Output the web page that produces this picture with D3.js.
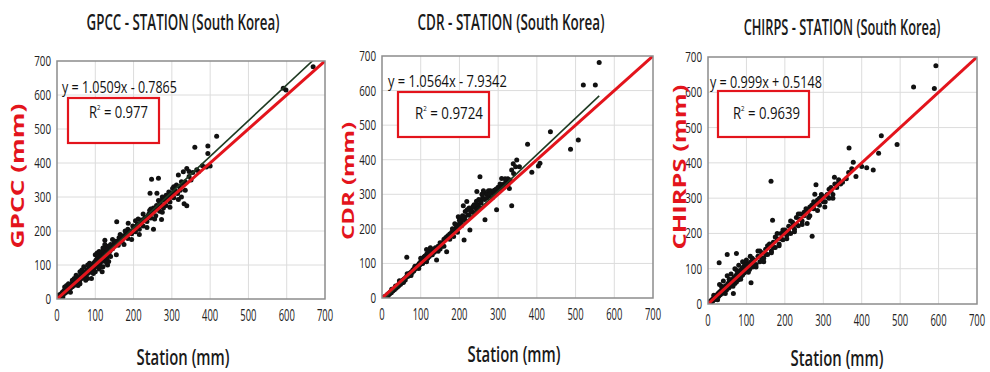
<!DOCTYPE html>
<html>
<head>
<meta charset="utf-8">
<script src="https://cdn.jsdelivr.net/npm/d3@7"></script>
<style>
  body { margin: 0; background: #fff; }
  svg { display: block; font-family: "Open Sans", "Liberation Sans", sans-serif; }
</style>
</head>
<body>
<svg id="chart" width="990" height="372"></svg>
<script>
// ---- data ----
const titles = ["GPCC - STATION (South Korea)", "CDR - STATION (South Korea)", "CHIRPS - STATION (South Korea)"];
const yLabels = ["GPCC (mm)", "CDR (mm)", "CHIRPS (mm)"];
const xLabel = "Station (mm)";
const axisTicks = [0, 100, 200, 300, 400, 500, 600, 700];
const slopes = [1.0509, 1.0564, 0.999];
const intercepts = [-0.7865, -7.9342, 0.5148];
const equations = ["y = 1.0509x - 0.7865", "y = 1.0564x - 7.9342", "y = 0.999x + 0.5148"];
const r2Values = ["0.977", "0.9724", "0.9639"];

// [station, product]
const gpccPoints = [
  [3,5],[5,12],[8,6],[10,15],[12,9],[14,20],[16,12],[18,24],[20,17],[22,28],[24,20],[26,32],[28,25],[30,35],
  [32,27],[34,40],[36,33],[38,45],[40,36],[42,50],[44,40],[46,55],[48,44],[50,58],[52,47],[54,62],[56,52],
  [58,65],[60,45],[60,56],[62,70],[64,60],[66,72],[68,63],[70,78],[72,68],[74,80],[76,70],[78,85],[80,60],
  [80,75],[82,88],[84,78],[86,92],[88,84],[90,98],[92,86],[94,104],[96,90],[98,108],[100,80],[100,95],
  [102,115],[104,98],[106,120],[108,104],[110,88],[110,125],[112,105],[114,130],[116,110],[118,80],[120,95],
  [120,135],[122,112],[124,145],[125,173],[126,115],[128,150],[130,120],[132,100],[134,155],[136,128],
  [138,140],[140,160],[145,148],[150,165],[156,227],[158,170],[160,158],[165,175],[170,168],[175,185],
  [180,190],[185,178],[186,223],[190,200],[195,192],[200,210],[205,198],[210,220],[215,205],[220,232],
  [225,215],[230,240],[235,228],[240,250],[243,311],[245,238],[247,352],[250,255],[252,205],[255,262],
  [258,245],[261,311],[262,270],[265,355],[268,258],[270,280],[273,234],[275,300],[278,268],[282,290],
  [285,275],[290,305],[295,285],[300,310],[305,298],[310,318],[317,293],[317,365],[320,330],[325,300],
  [330,374],[332,280],[335,345],[339,274],[339,384],[345,360],[350,350],[355,372],[360,446],[365,380],
  [370,375],[380,392],[390,388],[394,450],[394,428],[400,391],[417,479],[591,620],[598,615],[669,683],
  [15,5],[25,40],[35,20],[45,60],[55,40],[65,85],[75,55],[85,105],[95,75],[105,135],[115,95],[125,160],
  [135,110],[145,175],[155,130],[165,190],[175,160],[185,205],[195,175],[205,230],[215,190],[225,250],
  [235,210],[245,265],[255,235],[265,290],[275,255],[285,305],[295,270],[305,330],[315,310],[325,345],
  [335,320],[345,375],[90,60],[100,130],[110,140],[120,150],[130,105],[140,125],[60,80],[70,95],[80,100],
  [50,70],[40,55],[30,45],[20,35],[100,110],[105,125],[115,120],[118,140],[122,130],[128,135],[132,145],
  [142,150],[148,160],[152,170],[162,180],[172,185],[178,200],[188,195],[198,215],[208,215],[212,235],
  [218,225],[228,235],[238,245],[242,260],[252,268],[260,275],[268,285],[272,290],[280,295],[288,300],
  [292,315],[298,300],[302,325],[308,315],[312,335],[322,320],[328,340]
];
const cdrPoints = [
  [3,2],[5,0],[8,4],[10,6],[12,3],[14,10],[16,8],[18,14],[20,12],[22,18],[24,15],[26,22],[28,20],[30,26],
  [32,24],[34,30],[36,28],[38,34],[40,32],[42,38],[44,36],[46,42],[48,40],[50,46],[52,44],[54,52],[56,48],
  [58,56],[60,52],[62,60],[64,118],[66,62],[68,66],[70,64],[72,72],[74,70],[76,76],[78,74],[80,82],[82,78],
  [84,86],[86,84],[88,90],[90,88],[92,94],[94,92],[96,100],[98,96],[100,105],[102,100],[104,112],[106,104],
  [108,118],[110,108],[112,122],[114,112],[116,128],[118,115],[120,132],[122,120],[125,138],[128,125],
  [130,140],[135,132],[138,145],[141,110],[145,150],[150,142],[155,160],[160,150],[167,134],[170,180],
  [175,170],[180,190],[185,178],[190,200],[192,210],[195,205],[197,235],[200,215],[205,220],[208,238],
  [210,267],[212,168],[215,250],[219,279],[222,240],[225,260],[227,197],[230,255],[235,248],[240,262],
  [245,308],[248,270],[250,285],[253,351],[256,275],[260,290],[266,303],[266,226],[270,300],[275,295],
  [280,310],[285,305],[290,312],[296,255],[300,320],[305,315],[309,346],[315,330],[320,335],[329,317],
  [331,341],[335,267],[335,370],[339,388],[348,399],[355,380],[376,445],[387,364],[404,382],[408,390],
  [435,481],[487,430],[507,457],[520,616],[551,616],[561,681],
  [15,5],[25,25],[35,35],[45,50],[55,45],[65,70],[75,65],[85,92],[95,85],[105,115],[115,105],[125,130],
  [135,140],[145,135],[155,150],[165,175],[175,185],[185,195],[195,190],[205,230],[215,225],[225,240],
  [235,265],[245,255],[255,280],[265,285],[275,310],[285,290],[295,315],[305,330],[315,320],[325,345],
  [110,120],[115,140],[120,125],[125,145],[100,115],[105,100],[130,125],[150,160],[160,170],[182,200],
  [188,215],[200,225],[206,210],[214,235],[220,255],[230,250],[238,270],[244,280],[252,262],[258,300],
  [262,310],[272,290],[278,300],[290,300],[298,305],[310,320],[318,345],[326,330],[340,360],[345,380]
];
const chirpsPoints = [
  [2,3],[4,1],[6,8],[8,5],[10,12],[12,8],[14,16],[16,12],[18,20],[20,15],[22,25],[24,18],[26,30],[28,22],
  [29,117],[30,34],[32,26],[34,38],[36,30],[38,44],[40,34],[42,48],[44,38],[46,52],[48,40],[50,140],[52,58],
  [54,45],[56,62],[58,50],[60,66],[62,54],[64,70],[66,30],[68,75],[70,58],[72,80],[74,62],[74,143],[76,85],
  [78,68],[80,90],[82,72],[84,95],[86,78],[88,100],[90,82],[92,105],[94,88],[96,100],[98,110],[100,92],
  [104,115],[108,98],[112,60],[112,120],[116,105],[120,125],[125,112],[130,135],[135,120],[140,145],
  [145,130],[150,155],[155,140],[160,165],[164,348],[165,150],[168,237],[170,175],[175,160],[180,185],
  [185,170],[190,200],[195,182],[200,210],[205,195],[210,220],[215,200],[220,232],[225,212],[230,245],
  [235,222],[240,255],[245,235],[250,260],[258,228],[262,245],[265,275],[271,192],[275,270],[278,311],
  [281,338],[285,295],[290,280],[295,300],[300,290],[304,275],[310,305],[315,300],[320,320],[325,310],
  [329,359],[335,330],[340,352],[345,340],[350,345],[360,355],[366,373],[367,442],[374,383],[378,402],
  [385,361],[400,390],[413,386],[430,380],[444,427],[451,477],[492,452],[535,615],[589,611],[593,675],
  [15,25],[25,12],[35,50],[45,30],[55,70],[65,50],[75,95],[85,70],[95,115],[105,90],[115,130],[125,105],
  [135,150],[145,120],[155,165],[165,145],[175,190],[185,165],[195,210],[205,185],[215,235],[225,205],
  [235,255],[245,225],[255,270],[265,250],[275,290],[285,265],[295,310],[305,290],[315,325],[325,300],
  [30,55],[40,65],[50,80],[60,85],[70,100],[80,110],[90,120],[100,125],[110,135],[120,110],[100,105],
  [90,95],[80,80],[70,70],[60,60],[50,45],[40,40],[130,150],[140,130],[150,140],[160,170],[170,160],
  [180,200],[190,185],[200,200],[210,205],[220,220],[230,225],[240,240],[250,250],[260,262],[270,280],
  [280,285],[290,300],[300,305],[310,310],[320,330],[330,340],[340,345]
];
const allPoints = [gpccPoints, cdrPoints, chirpsPoints];

// ---- layout (pixels) ----
const panels = [
  { left: 57, right: 325, top: 61, bottom: 299, titleX: 183, titleY: 30, titleLen: 193,
    ylabX: 24, ylabY: 176, ylabLen: 145, ylabSize: 18, stationX: 183, stationY: 365,
    eqX: 62, eqY: 93, eqLen: 115, box: [68, 98, 91, 45], r2X: 89, r2Y: 118, r2Len: 59 },
  { left: 382, right: 653, top: 56, bottom: 298, titleX: 511, titleY: 30, titleLen: 187,
    ylabX: 354, ylabY: 181, ylabLen: 118, ylabSize: 16, stationX: 514, stationY: 362,
    eqX: 388, eqY: 87, eqLen: 119, box: [398, 92, 91, 45], r2X: 415, r2Y: 119, r2Len: 68 },
  { left: 708, right: 977, top: 57, bottom: 304, titleX: 842, titleY: 35, titleLen: 197,
    ylabX: 686, ylabY: 167, ylabLen: 165, ylabSize: 18, stationX: 837, stationY: 366,
    eqX: 710, eqY: 88, eqLen: 112, box: [718, 91, 91, 46], r2X: 733, r2Y: 119, r2Len: 67 }
];

const red = "#e3141c";
const svg = d3.select("#chart");

// squeeze a text horizontally to the width measured on the picture
function fitText(text, x, y, len, rotate) {
  const natural = text.node().getComputedTextLength();
  const s = natural > 0 ? len / natural : 1;
  text.attr("x", 0).attr("y", 0)
    .attr("transform", `translate(${x},${y})${rotate ? " rotate(-90)" : ""} scale(${s},1)`);
}

panels.forEach((p, i) => {
  const pts = allPoints[i];
  const x = d3.scaleLinear().domain([0, 700]).range([p.left, p.right]);
  const y = d3.scaleLinear().domain([0, 700]).range([p.bottom, p.top]);
  const g = svg.append("g").attr("class", "panel_" + i);

  g.append("clipPath").attr("id", "clip" + i)
    .append("rect")
    .attr("x", p.left).attr("y", p.top)
    .attr("width", p.right - p.left).attr("height", p.bottom - p.top);

  // gridlines
  g.selectAll(".vgrid").data(axisTicks.slice(1, -1)).join("line")
    .attr("x1", d => x(d)).attr("x2", d => x(d))
    .attr("y1", p.top).attr("y2", p.bottom)
    .attr("stroke", "#dcdcdc").attr("stroke-width", 1);
  g.selectAll(".hgrid").data(axisTicks.slice(1, -1)).join("line")
    .attr("y1", d => y(d)).attr("y2", d => y(d))
    .attr("x1", p.left).attr("x2", p.right)
    .attr("stroke", "#dcdcdc").attr("stroke-width", 1);

  // tick labels
  g.selectAll(".xt").data(axisTicks).join("text")
    .attr("text-anchor", "middle")
    .attr("font-size", 17).attr("fill", "#222")
    .text(d => d)
    .each(function (d) { fitText(d3.select(this), x(d), p.bottom + 22, String(d).length * 5.4); });
  g.selectAll(".yt").data(axisTicks).join("text")
    .attr("text-anchor", "end")
    .attr("font-size", 15).attr("fill", "#222")
    .text(d => d)
    .each(function (d) { fitText(d3.select(this), p.left - 6, y(d) + 5, String(d).length * 5.6); });

  // points
  g.append("g").attr("clip-path", `url(#clip${i})`)
    .selectAll("circle").data(pts).join("circle")
    .attr("cx", d => x(d[0])).attr("cy", d => y(d[1]))
    .attr("r", 2.5).attr("fill", "#111");

  // trend line over the data range, then 1:1 line
  const xr = d3.extent(pts, d => d[0]);
  const lines = g.append("g").attr("clip-path", `url(#clip${i})`);
  lines.append("line")
    .attr("x1", x(0)).attr("y1", y(intercepts[i]))
    .attr("x2", x(xr[1])).attr("y2", y(slopes[i] * xr[1] + intercepts[i]))
    .attr("stroke", "#1f3a22").attr("stroke-width", 1.6);
  lines.append("line")
    .attr("x1", x(0)).attr("y1", y(0))
    .attr("x2", x(700)).attr("y2", y(700))
    .attr("stroke", red).attr("stroke-width", 3);

  // plot frame
  g.append("rect")
    .attr("x", p.left).attr("y", p.top)
    .attr("width", p.right - p.left).attr("height", p.bottom - p.top)
    .attr("fill", "none").attr("stroke", "#8c8c8c").attr("stroke-width", 1.5);

  // equation and R2 box
  const eq = g.append("text")
    .attr("font-size", 16).attr("fill", "#111")
    .text(equations[i]);
  fitText(eq, p.eqX, p.eqY, p.eqLen);
  g.append("rect")
    .attr("x", p.box[0]).attr("y", p.box[1])
    .attr("width", p.box[2]).attr("height", p.box[3])
    .attr("fill", "#fff").attr("stroke", red).attr("stroke-width", 2.2);
  const r2 = g.append("text")
    .attr("font-size", 17).attr("fill", "#111");
  r2.append("tspan").text("R");
  r2.append("tspan").attr("font-size", 8).attr("dy", -8).text("2");
  r2.append("tspan").attr("dy", 8).text(" = " + r2Values[i]);
  fitText(r2, p.r2X, p.r2Y, p.r2Len);

  // titles and axis labels
  const title = g.append("text")
    .attr("text-anchor", "middle")
    .attr("font-size", 21).attr("font-weight", 600).attr("fill", "#1a1a1a")
    .text(titles[i]);
  fitText(title, p.titleX, p.titleY, p.titleLen);
  const st = g.append("text")
    .attr("text-anchor", "middle")
    .attr("font-size", 22).attr("font-weight", 600).attr("fill", "#1a1a1a")
    .text(xLabel);
  fitText(st, p.stationX, p.stationY, 93);
  const yl = g.append("text")
    .attr("text-anchor", "middle")
    .attr("font-size", p.ylabSize).attr("font-weight", 700).attr("fill", red)
    .text(yLabels[i]);
  fitText(yl, p.ylabX, p.ylabY, p.ylabLen, true);
});
</script>
</body>
</html>
